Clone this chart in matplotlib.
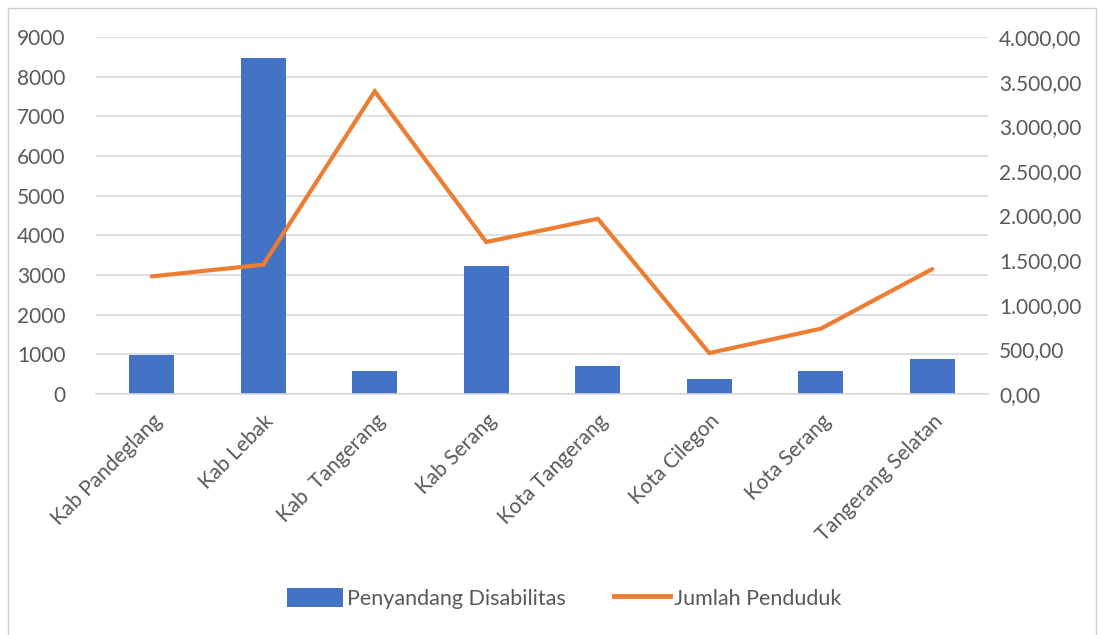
import matplotlib
matplotlib.use("Agg")
import matplotlib.pyplot as plt
from matplotlib.lines import Line2D
from matplotlib.patches import Patch, Rectangle
from matplotlib.ticker import FuncFormatter, MultipleLocator

categories = ["Kab Pandeglang", "Kab Lebak", "Kab  Tangerang", "Kab Serang",
              "Kota Tangerang", "Kota Cilegon", "Kota Serang", "Tangerang Selatan"]
disabilitas = [975, 8480, 580, 3235, 715, 388, 582, 875]
penduduk = [1318, 1449, 3392, 1703, 1964, 459, 732, 1400]

BLUE = "#4472C4"
ORANGE = "#ED7D31"
GRID = "#D9D9D9"
TEXT = "#595959"

plt.rcParams["font.family"] = ["Lato", "DejaVu Sans"]


def id_format(value, _pos):
    s = f"{value:,.2f}"
    return s.replace(",", "X").replace(".", ",").replace("X", ".")


fig = plt.figure(figsize=(11.02, 6.35), dpi=100)
ax = fig.add_axes([0.0871, 0.3795, 0.8095, 0.5622])
ax2 = ax.twinx()

x = list(range(len(categories)))
ax.bar(x, disabilitas, width=0.4, color=BLUE, zorder=2)
ax2.plot(x, penduduk, color=ORANGE, linewidth=3, solid_capstyle="round",
         solid_joinstyle="miter", zorder=3)

ax.set_xlim(-0.5, len(categories) - 0.5)
ax.set_ylim(0, 9000)
ax2.set_ylim(0, 4000)
ax.yaxis.set_major_locator(MultipleLocator(1000))
ax2.yaxis.set_major_locator(MultipleLocator(500))
ax2.yaxis.set_major_formatter(FuncFormatter(id_format))

ax.grid(axis="y", color=GRID, linewidth=1.2, zorder=0)
ax.set_axisbelow(True)
for a in (ax, ax2):
    for sp in a.spines.values():
        sp.set_visible(False)
    a.tick_params(length=0, labelsize=15, labelcolor=TEXT)
ax.spines["bottom"].set_visible(True)
ax.spines["bottom"].set_color(GRID)
ax.spines["bottom"].set_linewidth(1.2)

ax.set_xticks(x)
ax.set_xticklabels(categories, rotation=45, ha="right", rotation_mode="anchor")
ax.tick_params(axis="x", pad=12)
ax.tick_params(axis="y", pad=22)
ax2.tick_params(axis="y", pad=8)

handles = [Patch(facecolor=BLUE), Line2D([0], [0], color=ORANGE, linewidth=3.5)]
fig.legend(handles, ["Penyandang Disabilitas", "Jumlah Penduduk"],
           loc="center", bbox_to_anchor=(0.512, 0.058), ncol=2, frameon=False,
           fontsize=15.5, labelcolor=TEXT, handlelength=2.6, handleheight=1.0,
           columnspacing=2.2, handletextpad=0.2)

fig.patches.append(Rectangle((0.007, -0.01), 0.988, 0.997, transform=fig.transFigure,
                             fill=False, edgecolor="#D0D0D0", linewidth=1))

fig.savefig("out.png", dpi=100)
